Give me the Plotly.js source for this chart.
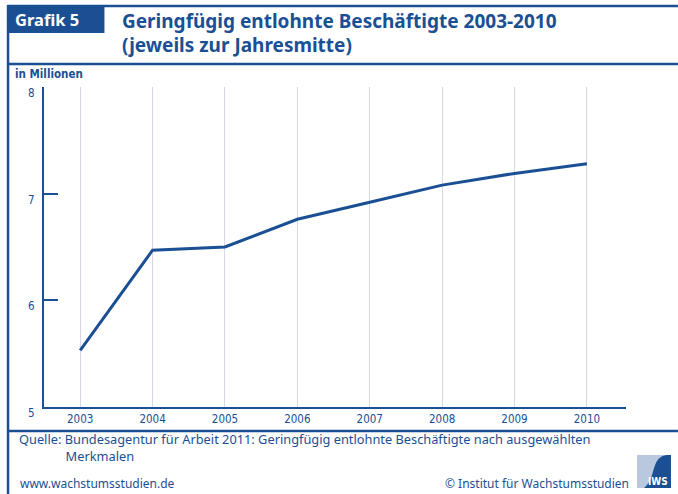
<!DOCTYPE html>
<html>
<head>
<meta charset="utf-8">
<script src="https://cdn.plot.ly/plotly-3.0.1.min.js"></script>
<style>html,body{margin:0;padding:0;background:#fff}#chart{width:678px;height:494px}</style>
</head>
<body>
<div id="chart"></div>
<script>
// Data
const years = [2003, 2004, 2005, 2006, 2007, 2008, 2009, 2010];
const employees = [5.53, 6.47, 6.50, 6.76, 6.92, 7.08, 7.19, 7.28];
const yTicks = [5, 6, 7, 8];
const xTickLabels = ['2003', '2004', '2005', '2006', '2007', '2008', '2009', '2010'];

const W = 678, H = 494;
const L = 43.5, R = 626, T = 87, B = 407;
const BLUE = '#1b4f93';
const px = x => (x - L) / (R - L);
const py = y => (B - y) / (B - T);
const font = "'Noto Sans', 'Open Sans', sans-serif";
const narrow = "'Liberation Sans Narrow', 'DejaVu Sans Condensed', 'Noto Sans', sans-serif";

const shapes = [
  // frame lines
  {type:'line', xref:'paper', yref:'paper', x0:px(7), x1:px(678), y0:py(6), y1:py(6), line:{color:BLUE, width:2.5}},
  {type:'line', xref:'paper', yref:'paper', x0:px(7.5), x1:px(7.5), y0:py(5), y1:py(494), line:{color:BLUE, width:2.5}},
  {type:'line', xref:'paper', yref:'paper', x0:px(7), x1:px(678), y0:py(64), y1:py(64), line:{color:BLUE, width:2.5}},
  {type:'line', xref:'paper', yref:'paper', x0:px(7), x1:px(678), y0:py(431), y1:py(431), line:{color:BLUE, width:2.5}},
  // Grafik box
  {type:'rect', xref:'paper', yref:'paper', x0:px(7), x1:px(104), y0:py(6), y1:py(33), fillcolor:BLUE, line:{width:0}},
  // logo
  {type:'rect', xref:'paper', yref:'paper', x0:px(637), x1:px(671), y0:py(455), y1:py(488), fillcolor:'#b9c8dd', line:{width:0}},
  {type:'path', xref:'paper', yref:'paper',
   path: 'M ' + px(644) + ',' + py(488) + ' C ' + px(657) + ',' + py(478) + ' ' + px(650) + ',' + py(457) + ' ' + px(667) + ',' + py(455) +
         ' L ' + px(671) + ',' + py(455) + ' L ' + px(671) + ',' + py(488) + ' Z',
   fillcolor: BLUE, line:{width:0}}
];

const annotations = [
  {text:'<b>Grafik 5</b>', xref:'paper', yref:'paper', x:px(12), y:py(19), xanchor:'left', yanchor:'middle', showarrow:false, font:{family:font, size:16.5, color:'#ffffff'}},
  {text:'<b>Geringfügig entlohnte Beschäftigte 2003-2010</b>', xref:'paper', yref:'paper', x:px(120), y:py(21), xanchor:'left', yanchor:'middle', showarrow:false, font:{family:font, size:19, color:BLUE}},
  {text:'<b>(jeweils zur Jahresmitte)</b>', xref:'paper', yref:'paper', x:px(120), y:py(45), xanchor:'left', yanchor:'middle', showarrow:false, font:{family:font, size:19, color:BLUE}},
  {text:'<b>in Millionen</b>', xref:'paper', yref:'paper', x:px(12), y:py(74), xanchor:'left', yanchor:'middle', showarrow:false, font:{family:narrow, size:11.5, color:BLUE}},
  {text:'Quelle: Bundesagentur für Arbeit 2011: Geringfügig entlohnte Beschäftigte nach ausgewählten<br>' + '\u00a0'.repeat(14) + 'Merkmalen',
   xref:'paper', yref:'paper', x:px(16), y:py(447.5), xanchor:'left', yanchor:'middle', align:'left', showarrow:false, font:{family:font, size:12.8, color:BLUE}},
  {text:'www.wachstumsstudien.de', xref:'paper', yref:'paper', x:px(17), y:py(483), xanchor:'left', yanchor:'middle', showarrow:false, font:{family:font, size:12, color:BLUE}},
  {text:'© Institut für Wachstumsstudien', xref:'paper', yref:'paper', x:px(631), y:py(483), xanchor:'right', yanchor:'middle', showarrow:false, font:{family:font, size:12, color:BLUE}},
  {text:'<b>IWS</b>', xref:'paper', yref:'paper', x:px(670), y:py(481), xanchor:'right', yanchor:'middle', showarrow:false, font:{family:narrow, size:10, color:'#ffffff'}}
];

const trace = {
  x: years, y: employees, type:'scatter', mode:'lines',
  line:{color:BLUE, width:3}, hoverinfo:'skip', showlegend:false
};

const layout = {
  width: W, height: H,
  margin:{l:L, r:W-R, t:T, b:H-B, pad:0},
  paper_bgcolor:'#ffffff', plot_bgcolor:'#ffffff',
  showlegend:false,
  xaxis:{
    range:[2002.5, 2010.54], tickvals:years, ticktext:xTickLabels,
    showgrid:true, gridcolor:'#d7d7ec', gridwidth:1, zeroline:false,
    showline:true, linecolor:BLUE, linewidth:2, ticks:'',
    tickfont:{family:narrow, size:11.5, color:BLUE}, fixedrange:true
  },
  yaxis:{
    range:[5, 8], tickvals:yTicks, ticktext:yTicks.map(String),
    showgrid:false, zeroline:false, showline:true, linecolor:BLUE, linewidth:2,
    ticks:'inside', ticklen:14, tickwidth:2, tickcolor:BLUE, ticklabelstandoff:5, ticklabelshift:6,
    tickfont:{family:narrow, size:11.5, color:BLUE}, fixedrange:true
  },
  shapes: shapes,
  annotations: annotations
};

Plotly.newPlot('chart', [trace], layout, {displayModeBar:false, staticPlot:true});
</script>
</body>
</html>
